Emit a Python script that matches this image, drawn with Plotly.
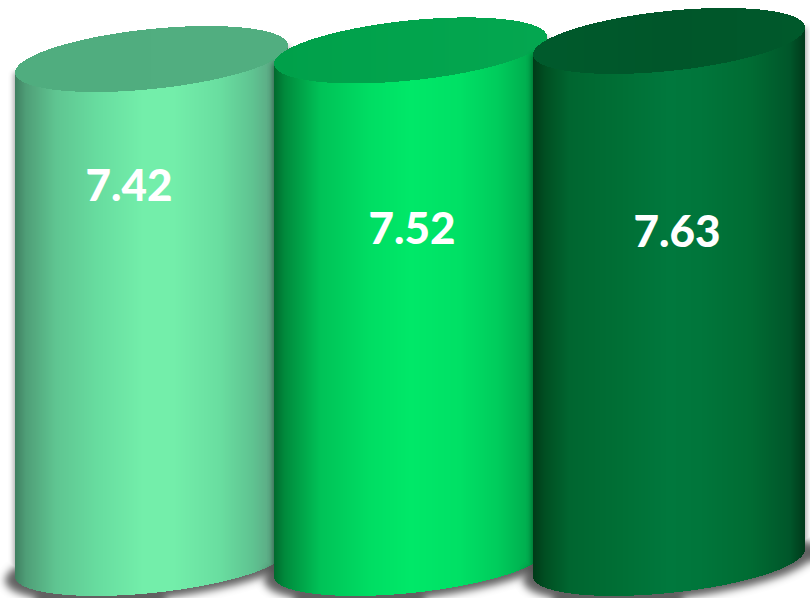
import numpy as np
import plotly.graph_objects as go

# ---- data ----
categories = ["A", "B", "C"]
values = [7.42, 7.52, 7.63]
value_labels = ["7.42", "7.52", "7.63"]

# ---- value axis (hidden) ----
W, H = 810, 598
axis_top = 8.106
px_per_unit = 86.0
axis_bottom = axis_top - H / px_per_unit
axis_base = 1.56

# ---- styles ----
cyl_left = [15, 274, 533]
cyl_right = [288, 547, 805]
tilt_px = 13.5
half_b = 30.1
label_px = [(129, 190), (412, 233), (677, 236)]

side_scales = [
    [[0, "#3f7f60"], [0.04, "#4f9e77"], [0.15, "#5fc591"], [0.3, "#67dc9f"], [0.47, "#73eeaa"],
     [0.58, "#73eeaa"], [0.75, "#69dea0"], [0.87, "#5fc391"], [0.934, "#5cab85"], [1, "#3f7f60"]],
    [[0, "#006a2d"], [0.04, "#008a3c"], [0.17, "#00c257"], [0.35, "#00dd63"], [0.5, "#00e868"],
     [0.68, "#00e065"], [0.82, "#00cc5c"], [0.95, "#00a84c"], [1, "#00803a"]],
    [[0, "#003a18"], [0.045, "#004f22"], [0.135, "#006630"], [0.32, "#006f35"], [0.5, "#00783d"],
     [0.61, "#00763b"], [0.8, "#006c33"], [0.945, "#00562a"], [1, "#00391a"]],
]
cap_scales = [
    [[0, "#50ad7f"], [1, "#51ae80"]],
    [[0, "#00a04a"], [1, "#04a750"]],
    [[0, "#005a2c"], [0.5, "#00562a"], [1, "#00592b"]],
]

# ---- grid ----
xs = np.arange(W) + 0.5
pys = np.arange(H) + 0.5
ys_value = axis_top - pys / px_per_unit
X, PY = np.meshgrid(xs, pys)


def to_px(v):
    return (axis_top - v) * px_per_unit


def gauss_blur(arr, sigma):
    r = int(3 * sigma)
    t = np.arange(-r, r + 1)
    g = np.exp(-t * t / (2 * sigma * sigma))
    g /= g.sum()
    pad = r + 40
    p = np.pad(arr, pad, mode="edge")
    p = np.apply_along_axis(lambda m: np.convolve(m, g, mode="same"), 0, p)
    p = np.apply_along_axis(lambda m: np.convolve(m, g, mode="same"), 1, p)
    return p[pad:-pad, pad:-pad]


traces = []
base_py = to_px(axis_base)
for i, v in enumerate(values):
    L, R = cyl_left[i], cyl_right[i]
    cx, a = (L + R) / 2, (R - L) / 2
    k = tilt_px / a
    top_py = to_px(v)
    U = X - cx
    root = np.sqrt(np.clip(1 - (U / a) ** 2, 0, None))
    inside = np.abs(U) <= a
    bottom_edge = base_py - k * U + half_b * root
    side = inside & (PY >= top_py - k * U) & (PY <= bottom_edge)
    cap = inside & (np.abs(PY - (top_py - k * U)) <= half_b * root)

    # soft shadow: body silhouette plus a wider pool at the foot
    a2 = a + 10
    pool = ((U / a2) ** 2 + ((PY - (base_py + 3 - k * U)) / (half_b + 3)) ** 2) <= 1
    body = (np.abs(U) <= a + 2) & (PY >= top_py - k * U) & (PY <= bottom_edge)
    shadow = 0.3 * gauss_blur(body.astype(float), 2.5)
    shadow = np.maximum(shadow, 0.62 * gauss_blur(pool.astype(float), 4.0))
    shadow = np.where(shadow < 0.004, np.nan, shadow)
    traces.append(go.Heatmap(
        x=xs, y=ys_value[::-1], z=shadow[::-1], zmin=0, zmax=1,
        colorscale=[[0, "rgba(0,0,0,0)"], [1, "rgba(0,0,0,1)"]],
        showscale=False, hoverinfo="skip", name=categories[i] + " shadow"))

    t = (X - L) / (R - L)
    traces.append(go.Heatmap(
        x=xs, y=ys_value[::-1], z=np.where(side, t, np.nan)[::-1], zmin=0, zmax=1,
        colorscale=side_scales[i], showscale=False, hoverinfo="skip", name=categories[i]))
    traces.append(go.Heatmap(
        x=xs, y=ys_value[::-1], z=np.where(cap, t, np.nan)[::-1], zmin=0, zmax=1,
        colorscale=cap_scales[i], showscale=False, hoverinfo="skip", name=categories[i] + " top"))

traces.append(go.Scatter(
    x=[p[0] for p in label_px],
    y=[axis_top - p[1] / px_per_unit for p in label_px],
    mode="text", text=value_labels, textposition="middle center",
    textfont=dict(family="Lato", size=44, color="#ffffff", weight=900),
    hoverinfo="skip", showlegend=False))

fig = go.Figure(traces)
fig.update_layout(
    width=W, height=H, margin=dict(l=0, r=0, t=0, b=0),
    paper_bgcolor="#ffffff", plot_bgcolor="#ffffff", showlegend=False,
    xaxis=dict(range=[0, W], visible=False, fixedrange=True),
    yaxis=dict(range=[axis_bottom, axis_top], visible=False, fixedrange=True),
)
fig.write_html("out.html", config={"displayModeBar": False},
               post_script="document.body.style.margin='0';document.documentElement.style.overflow='hidden';")
